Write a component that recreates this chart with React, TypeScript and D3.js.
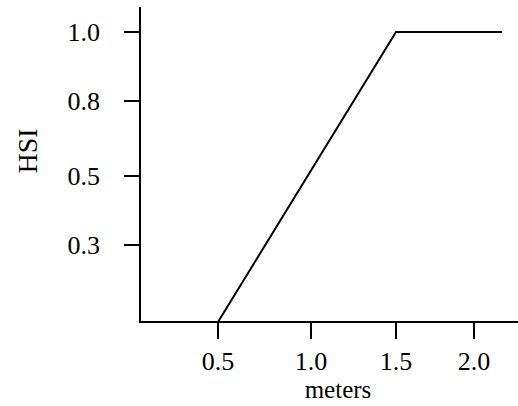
import React from "react";
import * as d3 from "d3";

const lineX = [0.5, 1.5, 2.18];
const lineY = [0, 1, 1];
const xTicks = [0.5, 1.0, 1.5, 2.0];
const xTickLabels = ["0.5", "1.0", "1.5", "2.0"];
const yTicks = [0.25, 0.5, 0.75, 1.0];
const yTickLabels = ["0.3", "0.5", "0.8", "1.0"];

export default function App() {
  const W = 518, H = 406;
  const x = d3.scaleLinear().domain([0.5, 1.0, 1.5, 2.0]).range([218, 311, 396, 474]);
  const y = d3.scaleLinear().domain([0, 0.25, 0.5, 0.75, 1.0]).range([322, 245, 176, 101, 32]);
  const axisX = 140, axisY = 322;
  const line = d3.line<number>().x((d, i) => x(lineX[i])).y((d) => y(d));
  const font = "'Liberation Serif', 'Times New Roman', serif";
  return (
    <svg width={W} height={H} style={{ position: "absolute", left: 0, top: 0, background: "#fff" }}>
      <line x1={axisX} y1={7} x2={axisX} y2={axisY + 1} stroke="#000" strokeWidth={2} />
      <line x1={axisX - 1} y1={axisY} x2={W} y2={axisY} stroke="#000" strokeWidth={2} />
      {yTicks.map((t, i) => (
        <g key={"y" + i}>
          <line x1={124} x2={axisX} y1={y(t)} y2={y(t)} stroke="#000" strokeWidth={2} />
          <text x={100} y={y(t)} dy="0.36em" textAnchor="end" fontFamily={font} fontSize={26} fill="#000">
            {yTickLabels[i]}
          </text>
        </g>
      ))}
      {xTicks.map((t, i) => (
        <g key={"x" + i}>
          <line x1={x(t)} x2={x(t)} y1={axisY} y2={339} stroke="#000" strokeWidth={2} />
          <text x={x(t)} y={370} textAnchor="middle" fontFamily={font} fontSize={26} fill="#000">
            {xTickLabels[i]}
          </text>
        </g>
      ))}
      <path d={line(lineY) || ""} fill="none" stroke="#000" strokeWidth={2} />
      <text x={338} y={398} textAnchor="middle" fontFamily={font} fontSize={25} fill="#000">meters</text>
      <text transform="translate(37,151) rotate(-90)" textAnchor="middle" fontFamily={font} fontSize={28} fill="#000">HSI</text>
    </svg>
  );
}
